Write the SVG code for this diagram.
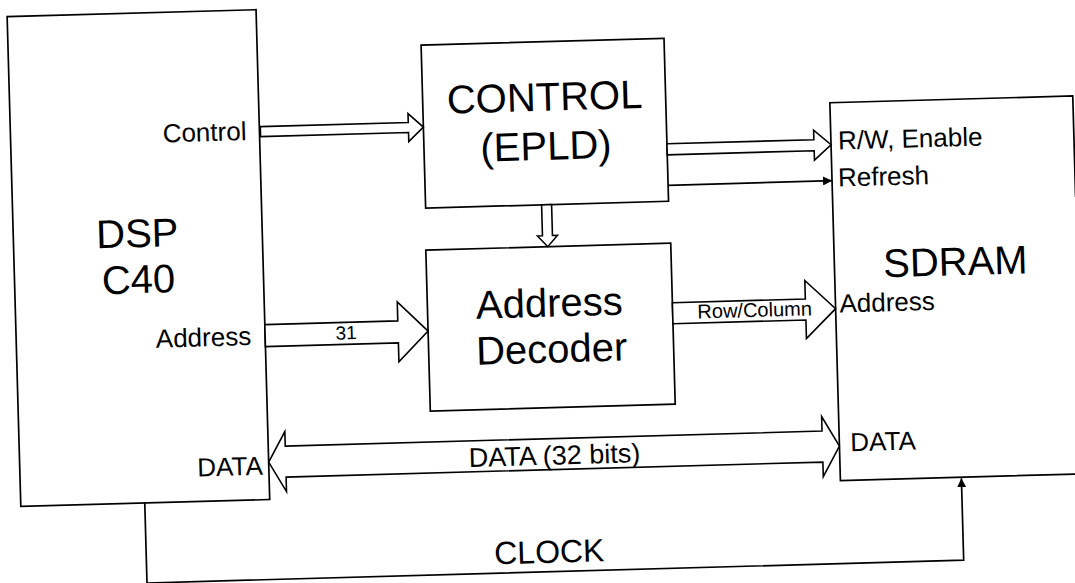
<svg xmlns="http://www.w3.org/2000/svg" width="1075" height="583" viewBox="0 0 1075 583">
<defs>
<marker id="fa" viewBox="0 0 10 10" refX="10" refY="5" markerWidth="9" markerHeight="9" markerUnits="userSpaceOnUse" orient="auto"><path d="M0,0 L10,5 L0,10 z" fill="#000"/></marker>
<style>
.box{fill:#fff;stroke:#000;stroke-width:1.7}
.bus{fill:#fff;stroke:#000;stroke-width:1.6;stroke-linejoin:miter}
.ln{fill:none;stroke:#000;stroke-width:1.7}
text{font-family:"Liberation Sans",Arial,sans-serif;fill:#000}
.big{font-size:40px;text-anchor:middle}
.lbl{font-size:26px}
.end{text-anchor:end}
</style>
</defs>
<rect width="1075" height="583" fill="#fff"/>
<g transform="rotate(-1.6 537 291)">
<g id="dsp">
<rect class="box" x="15" y="2" width="249" height="490"/>
<text class="big" x="139" y="236">DSP</text>
<text class="big" x="139" y="282">C40</text>
<text class="lbl end" x="251" y="132">Control</text>
<text class="lbl end" x="250" y="337">Address</text>
<text class="lbl end" x="258" y="467">DATA</text>
</g>
<g id="control">
<rect class="box" x="428" y="42" width="243" height="163"/>
<text class="big" x="550" y="111">CONTROL</text>
<text class="big" x="550" y="160">(EPLD)</text>
</g>
<g id="decoder">
<rect class="box" x="427" y="247" width="245" height="161"/>
<text class="big" x="549" y="317">Address</text>
<text class="big" x="550" y="363">Decoder</text>
</g>
<g id="sdram">
<path class="box" d="M1078,212 V111 H835 V489 H1090"/>
<text class="big" x="956" y="287">SDRAM</text>
<text class="lbl" x="842" y="158">R/W, Enable</text>
<text class="lbl" x="841" y="195">Refresh</text>
<text class="lbl" x="839" y="321">Address</text>
<text class="lbl" x="846" y="460">DATA</text>
</g>
<g id="connectors">
<polygon class="bus" points="265,119 413,119 413,110 428,124 413,138 413,129 265,129"/>
<polygon class="bus" points="544,205 544,236 539,236 549,247 559,236 554,236 554,205"/>
<polygon class="bus" points="264,317 397,317 397,298 427,328 397,358 397,339 264,339"/>
<text x="345" y="334" style="font-size:19px;text-anchor:middle">31</text>
<polygon class="bus" points="671,147.5 818,147.5 818,138 835,153 818,168 818,158.5 671,158.5"/>
<line class="ln" x1="671" y1="189" x2="835" y2="189" marker-end="url(#fa)"/>
<polygon class="bus" points="672,306.5 805,306.5 805,288 835,317 805,346 805,327.5 672,327.5"/>
<text x="754" y="323" style="font-size:20px;text-anchor:middle">Row/Column</text>
<polygon class="bus" points="264,454.5 281,424.5 281,439 818,439 818,424.5 835,454.5 818,484.5 818,470 281,470 281,484.5"/>
<text x="550" y="465" style="font-size:27px;text-anchor:middle">DATA (32 bits)</text>
<path class="ln" d="M139,492 V572 H956 V490" marker-end="url(#fa)"/>
<text x="542" y="563" style="font-size:32px;text-anchor:middle">CLOCK</text>
</g>
</g>
</svg>
